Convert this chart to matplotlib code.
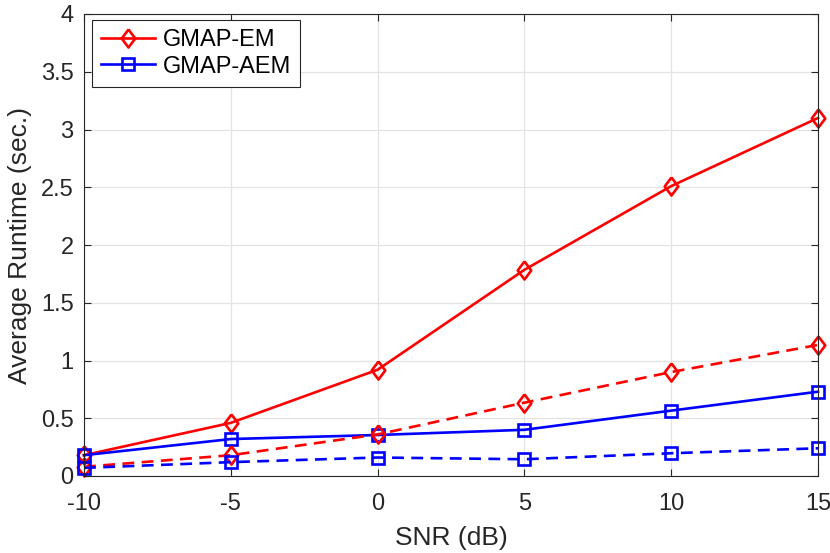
import numpy as np
import matplotlib
matplotlib.use("Agg")
import matplotlib.pyplot as plt

plt.rcParams['font.family'] = ['Liberation Sans', 'DejaVu Sans']
plt.rcParams['axes.unicode_minus'] = False

snr = [-10, -5, 0, 5, 10, 15]
em_solid = [0.18, 0.46, 0.92, 1.785, 2.51, 3.10]
em_dash = [0.08, 0.18, 0.36, 0.635, 0.90, 1.135]
aem_solid = [0.18, 0.32, 0.355, 0.40, 0.566, 0.73]
aem_dash = [0.07, 0.12, 0.16, 0.145, 0.197, 0.24]

# tall diamond like matlab's
diam = [(0, 1), (0.75, 0), (0, -1), (-0.75, 0), (0, 1)]

fig = plt.figure(figsize=(8.3, 5.53), dpi=100)
ax = fig.add_axes([84/830, 1-476/553, (818-84)/830, (476-14)/553])

kw = dict(lw=1.9, mfc='none', mew=1.9, clip_on=False)
ax.plot(snr, em_solid, '-', color='#ff0000', marker=diam, ms=13,
        label='GMAP-EM', **kw)
ax.plot(snr, aem_solid, '-', color='#0000ff', marker='s', ms=8,
        label='GMAP-AEM', **kw)
ax.plot(snr, em_dash, '--', color='#ff0000', marker=diam, ms=13,
        dashes=(4.5, 2.8), **kw)
ax.plot(snr, aem_dash, '--', color='#0000ff', marker='s', ms=8,
        dashes=(4.5, 2.8), **kw)

ax.set_xlim(-10, 15)
ax.set_ylim(0, 4)
ax.set_xticks([-10, -5, 0, 5, 10, 15])
ax.set_yticks(np.arange(0, 4.01, 0.5))
ax.set_yticklabels(['0', '0.5', '1', '1.5', '2', '2.5', '3', '3.5', '4'])
ax.grid(True, color='#e3e3e3', lw=0.9)
ax.set_axisbelow(True)
ax.tick_params(direction='in', labelsize=17, colors='#262626', length=5,
               top=True, right=True)
ax.tick_params(axis='x', pad=12)
ax.tick_params(axis='y', pad=7.5)
for s in ax.spines.values():
    s.set_color('#262626')
    s.set_linewidth(0.8)
ax.set_xlabel('SNR (dB)', fontsize=19, color='#262626', labelpad=8)
ax.set_ylabel('Average Runtime (sec.)', fontsize=19, color='#262626', labelpad=6)

leg = ax.legend(loc='upper left', bbox_to_anchor=(0.0105, 0.988),
                fontsize=17, fancybox=False, framealpha=1,
                edgecolor='#262626', borderaxespad=0, handlelength=2.3,
                handletextpad=0.3, borderpad=0.4, labelspacing=0.2)
leg.get_frame().set_linewidth(0.8)

fig.savefig('out.png', dpi=100)
